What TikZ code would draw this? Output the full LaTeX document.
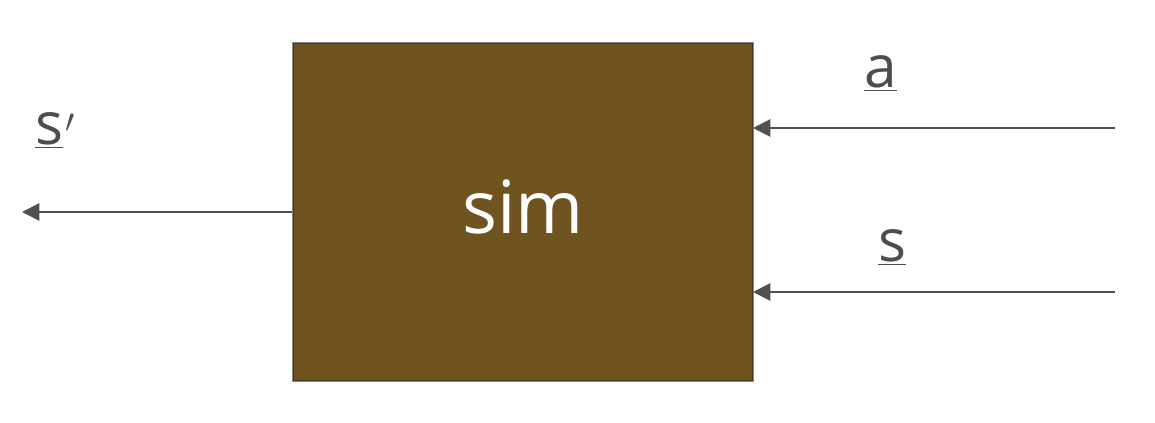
\documentclass[tikz,border=0pt]{standalone}
\usepackage{fontspec}
\setmainfont{Open Sans}
\usetikzlibrary{arrows.meta}
\definecolor{boxfill}{HTML}{6F5420}
\definecolor{boxedge}{HTML}{8A8A8A}
\definecolor{boxinner}{HTML}{4A3814}
\definecolor{linec}{HTML}{505050}
\definecolor{txtc}{HTML}{4D4D4D}
\tikzset{
  simbox/.style={draw=boxedge, line width=1.6pt, fill=boxfill, minimum width=345pt, minimum height=253.5pt, inner sep=0pt},
  flow/.style={draw=linec, line width=1.5pt, -{Triangle[length=13pt,width=13pt]}},
  lab/.style={text=txtc, font=\fontsize{44}{50}\selectfont, inner sep=0pt, anchor=base west}
}
\begin{document}
\begin{tikzpicture}[x=0.75pt,y=-0.75pt]
\useasboundingbox (0,0) rectangle (1155,423);
\node[simbox] (sim) at (523,212) {};
\draw[boxinner, line width=0.8pt] ([shift={(1.8,1.8)}]sim.north west) rectangle ([shift={(-1.8,-1.8)}]sim.south east);
\node[text=white, font=\fontsize{55}{62}\selectfont, inner sep=0pt, anchor=base] (simlab) at (523,234) {sim};
\coordinate (aend) at (1115,128);
\coordinate (send) at (1115,292);
\coordinate (spend) at (22,212);
\coordinate (ain) at (753,128);
\coordinate (sin) at (753,292);
\draw[flow] (aend) -- (ain);
\draw[flow] (send) -- (sin);
\draw[flow] (sim.west) -- (spend);
\node[lab] (la) at (864,88) {\underline{a}};
\node[lab] (ls) at (878,262) {\underline{s}};
\node[lab] (lsp) at (35,145) {\underline{s}\kern2pt$'$};
\end{tikzpicture}
\end{document}
